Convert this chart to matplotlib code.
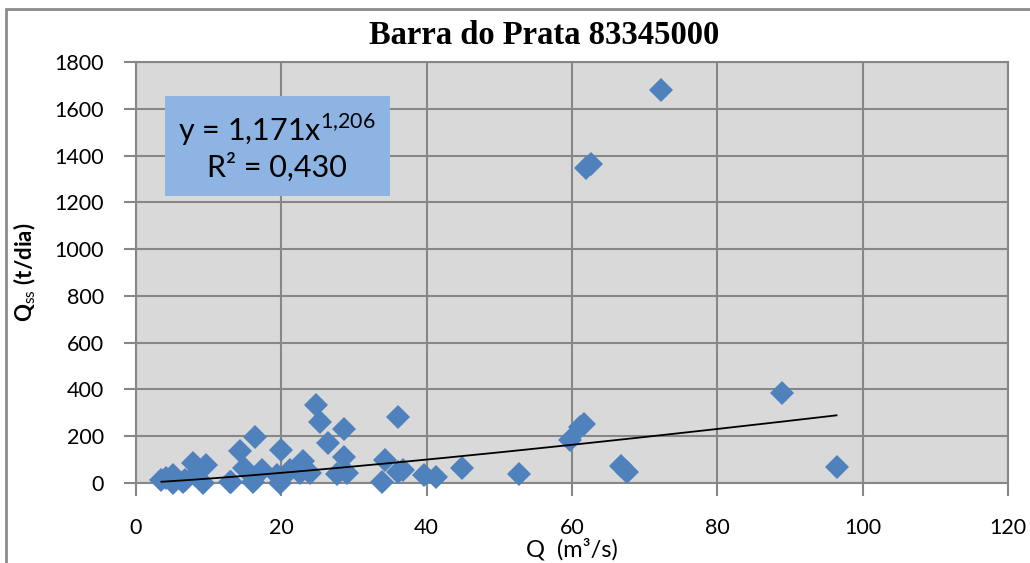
import numpy as np
import matplotlib
matplotlib.use("Agg")
import matplotlib.pyplot as plt
from matplotlib.patches import Rectangle

# vazao (m3/s) e descarga solida em suspensao (t/dia)
q = [3.5, 4.1, 5.1, 5.1, 6.5, 6.7, 7.8, 8.1, 9.2, 9.7,
     12.9, 13.1, 14.3, 14.8, 16.1, 16.4, 17.3, 19.4, 19.8, 20.0,
     21.2, 22.5, 23.0, 23.9, 24.8, 25.3, 26.4, 27.6, 28.6, 28.6,
     29.0, 33.8, 34.3, 36.1, 36.1, 36.8, 39.7, 41.3, 44.9, 52.7,
     59.7, 61.1, 61.6, 61.9, 62.6, 66.7, 67.5, 72.3, 88.9, 96.4]
qss = [13, 20, 34, 2, 5, 13, 85, 34, 2, 77,
       6, 6, 137, 64, 6, 197, 56, 34, 2, 141,
       56, 43, 95, 43, 333, 260, 170, 40, 233, 112,
       43, 6, 98, 283, 47, 56, 34, 26, 64, 38,
       184, 240, 252, 1347, 1364, 73, 48, 1682, 384, 70]

coef_a = 1.171
coef_b = 1.206
r2 = 0.430

plt.rcParams['font.family'] = ['Lato', 'DejaVu Sans']
plt.rcParams['mathtext.fontset'] = 'custom'
plt.rcParams['mathtext.rm'] = 'Lato'

fig = plt.figure(figsize=(10.3, 5.63), dpi=100)
ax = fig.add_axes([136/1030, 1 - 483/563, (1008 - 136)/1030, (483 - 62)/563])

# moldura do grafico
fig.patches.append(Rectangle((6/1030, -0.1), 1.2, 1 - 9/563 + 0.1, transform=fig.transFigure,
                             fill=False, edgecolor='#8c8c8c', linewidth=2))

ax.set_facecolor('#d9d9d9')
ax.set_xlim(0, 120)
ax.set_ylim(0, 1800)
ax.set_xticks(np.arange(0, 121, 20))
ax.set_yticks(np.arange(0, 1801, 200))
ax.grid(True, color='#878787', linewidth=1.5)
ax.set_axisbelow(True)
for s in ax.spines.values():
    s.set_color('#878787')
    s.set_linewidth(1.5)
ax.tick_params(length=9, width=1.5, color='#878787', labelsize=15.5, pad=14)
ax.tick_params(axis='x', pad=16)

ax.plot(q, qss, 'D', color='#4f81bd', markersize=12, markeredgewidth=0, clip_on=False, zorder=3)

xs = np.linspace(min(q), max(q), 200)
ax.plot(xs, coef_a * xs ** coef_b, color='black', linewidth=1.3, zorder=4)

eq = 'y = 1,171x$^{\\mathrm{1{,}206}}$\nR² = 0,430'
ax.text(0.162, 0.798, eq, transform=ax.transAxes,
        ha='center', va='center', fontsize=22, linespacing=1.2,
        bbox=dict(boxstyle='square,pad=0.45', facecolor='#8db4e2', edgecolor='none'), zorder=5)

fig.text(544/1030, 1 - 35/563, 'Barra do Prata 83345000', fontsize=23.5, fontweight='bold',
         family='Liberation Serif', ha='center', va='center')
ax.set_xlabel('Q  (m³/s)', fontsize=17, labelpad=0)
ax.set_ylabel('Q$_{\\mathrm{ss}}$ (t/dia)', fontsize=16, fontweight='bold', labelpad=12)

fig.savefig('out.png', dpi=100)
